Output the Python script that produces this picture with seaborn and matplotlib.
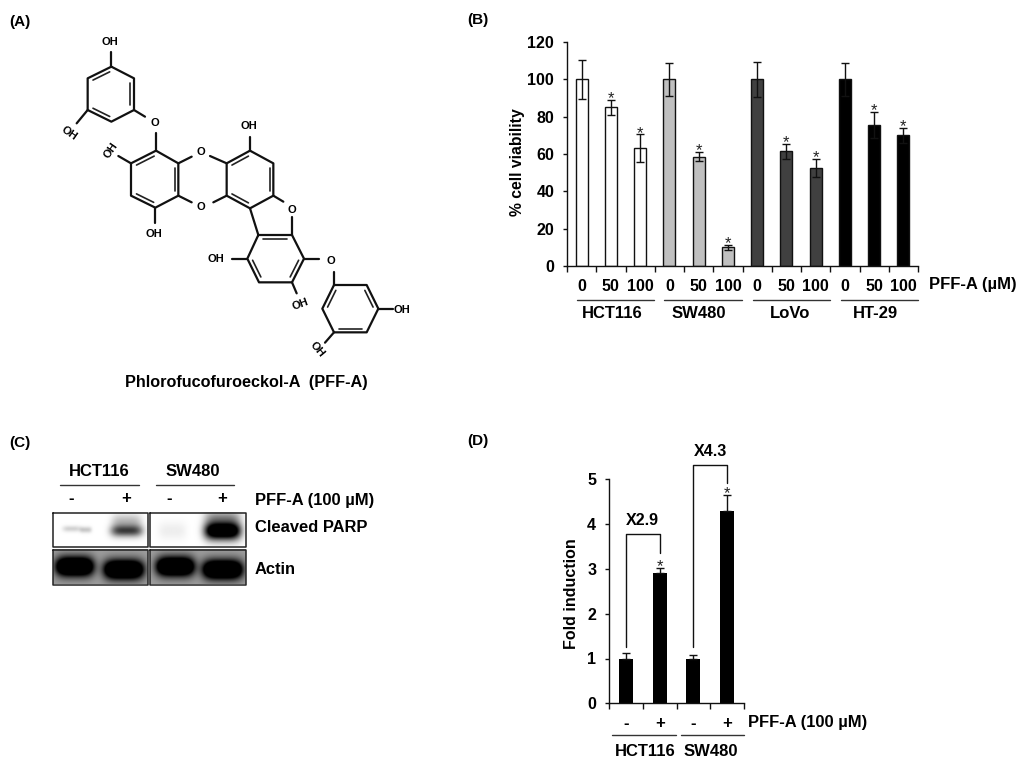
import numpy as np
import pandas as pd
import seaborn as sns
import matplotlib.pyplot as plt

sns.set_theme(style='white')
plt.rcParams['font.family'] = ['Liberation Sans', 'DejaVu Sans']
plt.rcParams['font.weight'] = 'bold'
plt.rcParams['axes.labelweight'] = 'bold'
plt.rcParams['text.color'] = 'black'
plt.rcParams['axes.labelcolor'] = 'black'
plt.rcParams['xtick.color'] = 'black'
plt.rcParams['ytick.color'] = 'black'

# panel B
lines = ['HCT116', 'SW480', 'LoVo', 'HT-29']
doses = ['0', '50', '100']
viability = [100, 85, 63, 100, 58.5, 10, 100, 61.5, 52.5, 100, 75.5, 70]
viability_err = [10.5, 4, 7.5, 9, 2.5, 1.2, 9.5, 4, 5, 9, 7, 4]
viability_star = [False, True, True] * 4
line_colors = ['white', '#c0c0c0', '#404040', 'black']

# panel D
fold_cells = ['HCT116', 'HCT116', 'SW480', 'SW480']
fold_signs = ['-', '+', '-', '+']
fold = [1, 2.9, 1, 4.3]
fold_err = [0.12, 0.12, 0.08, 0.35]
fold_star = [False, True, False, True]

W, H = 1024, 768


def axes_px(fig, x0, y0, x1, y1):
    return fig.add_axes([x0 / W, 1 - y1 / H, (x1 - x0) / W, (y1 - y0) / H])


fig = plt.figure(figsize=(W / 100, H / 100), dpi=100)

# full figure layer in pixel coordinates for labels and drawings
bg = fig.add_axes([0, 0, 1, 1])
bg.set_xlim(0, W)
bg.set_ylim(H, 0)
bg.axis('off')

for lab, x, y in [('(A)', 20, 22), ('(B)', 478, 20), ('(C)', 20, 443), ('(D)', 478, 441)]:
    bg.text(x, y, lab, fontsize=11, ha='center', va='center')


# ---- panel A, structure (coordinates from a 3x crop at 50,20)
def sx(x):
    return 50 + x / 3


def sy(y):
    return 20 + y / 3


rings = [
    ([(184, 140), (252, 175), (252, 270), (184, 305), (113, 270), (113, 175)], [1, 3, 5]),
    ([(318, 392), (385, 430), (385, 527), (316, 563), (243, 527), (243, 430)], [1, 3, 5]),
    ([(600, 392), (670, 430), (670, 527), (600, 565), (530, 527), (530, 430)], [1, 3, 5]),
    ([(625, 645), (726, 645), (762, 716), (726, 787), (627, 787), (592, 716)], [0, 2, 4]),
    ([(852, 795), (950, 795), (985, 866), (950, 937), (852, 937), (817, 866)], [1, 5, 3]),
]
bonds = [
    (184, 140, 184, 95), (113, 270, 80, 310), (252, 270, 285, 290), (318, 340, 318, 392),
    (243, 430, 205, 408), (316, 563, 316, 610), (385, 430, 425, 410), (480, 408, 530, 430),
    (385, 527, 425, 547), (490, 547, 530, 527), (600, 392, 600, 350), (670, 527, 700, 545),
    (726, 590, 726, 645), (600, 565, 625, 645), (545, 716, 592, 716), (762, 716, 808, 716),
    (726, 787, 740, 820), (852, 755, 852, 795), (985, 866, 1030, 866), (852, 937, 825, 968),
]
atoms = [
    ('OH', 180, 65, 0), ('OH', 58, 340, -35), ('O', 316, 308, 0), ('OH', 182, 390, 55),
    ('OH', 313, 642, 0), ('O', 453, 396, 0), ('O', 453, 560, 0), ('OH', 596, 318, 0),
    ('O', 726, 570, 0), ('OH', 497, 716, 0), ('O', 842, 722, 0), ('OH', 752, 852, 20),
    ('OH', 1057, 870, 0), ('OH', 802, 988, -50),
]
for pts, dbl in rings:
    p = np.array(pts, dtype=float)
    c = p.mean(axis=0)
    closed = np.vstack([p, p[0]])
    bg.plot(sx(closed[:, 0]), sy(closed[:, 1]), color='#111111', lw=1.6, solid_joinstyle='round')
    for i in dbl:
        a = p[i]
        b = p[(i + 1) % 6]
        a2 = c + (a - c) * 0.84
        b2 = c + (b - c) * 0.84
        a3 = a2 + (b2 - a2) * 0.08
        b3 = b2 - (b2 - a2) * 0.08
        bg.plot(sx(np.array([a3[0], b3[0]])), sy(np.array([a3[1], b3[1]])), color='#222222', lw=1.2)
for x0, y0, x1, y1 in bonds:
    bg.plot([sx(x0), sx(x1)], [sy(y0), sy(y1)], color='#111111', lw=1.6)
for t, x, y, rot in atoms:
    bg.text(sx(x), sy(y), t, fontsize=8, ha='center', va='center', rotation=rot,
            rotation_mode='anchor')
bg.text(246, 382, 'Phlorofucofuroeckol-A  (PFF-A)', fontsize=11.7, ha='center', va='center')


# ---- panel C, blots: x0, x1, y0, y1, background, bands (x, half w, y, half h, darkness)
def blot(x0, x1, y0, y1, base, bands):
    xs = np.arange(x0, x1, 0.5)
    ys = np.arange(y0, y1, 0.5)
    X, Y = np.meshgrid(xs, ys)
    img = np.full(X.shape, float(base))
    for cx, hw, cy, hh, dark in bands:
        img = img - dark * np.exp(-((X - cx) / hw) ** 4 - ((Y - cy) / hh) ** 2)
    bg.imshow(np.clip(img, 0, 1), cmap='gray', vmin=0, vmax=1, extent=(x0, x1, y1, y0),
              aspect='auto', interpolation='bilinear', zorder=2)
    bg.plot([x0, x1, x1, x0, x0], [y0, y0, y1, y1, y0], color='#222222', lw=1.1, zorder=3)


blot(52.5, 147.5, 512.5, 546.5, 1.0, [(71, 9, 529, 3, 0.18), (85, 6, 530, 3, 0.22),
                                     (126, 16, 531, 6, 0.75), (126, 15, 521, 7, 0.25)])
blot(150, 245.5, 512.5, 546.5, 1.0, [(172, 14, 531, 9, 0.07), (222, 18, 531, 9, 1.5),
                                    (222, 18, 517, 7, 0.35)])
blot(52.5, 147.5, 550, 584.5, 0.62, [(74, 19, 567, 9.5, 1.3), (123, 20, 570, 9.5, 1.3)])
blot(150, 245.5, 550, 584.5, 0.62, [(175, 19, 567, 9.5, 1.3), (222, 20, 570, 9.5, 1.3)])
bg.set_xlim(0, W)
bg.set_ylim(H, 0)

for t, x in [('HCT116', 99.5), ('SW480', 193)]:
    bg.text(x, 472, t, fontsize=12, ha='center', va='center')
bg.plot([60, 139], [485, 485], color='#333333', lw=1)
bg.plot([156, 234], [485, 485], color='#333333', lw=1)
for t, x in [('-', 71), ('+', 126), ('-', 169), ('+', 222)]:
    bg.text(x, 499, t, fontsize=12, ha='center', va='center')
bg.text(255, 500, 'PFF-A (100 µM)', fontsize=11.9, va='center')
bg.text(255, 528, 'Cleaved PARP', fontsize=11.9, va='center')
bg.text(255, 569, 'Actin', fontsize=11.9, va='center')

# ---- panel B
df_b = pd.DataFrame({
    'cat': [f'{l} {d}' for l in lines for d in doses],
    'line': [l for l in lines for d in doses],
    'viability': viability,
})
ax = axes_px(fig, 567, 42, 918, 266)
ax.patch.set_alpha(0)
sns.barplot(data=df_b, x='cat', y='viability', hue='line', palette=line_colors, dodge=False,
            saturation=1, width=0.41, edgecolor='#111111', linewidth=1, errorbar=None, legend=False, ax=ax)
ax.errorbar(df_b['cat'], viability, yerr=viability_err, fmt='none', ecolor='#111111',
            elinewidth=1, capsize=3.2, capthick=1)
for i, on in enumerate(viability_star):
    if on:
        ax.text(i, viability[i] + viability_err[i] - 3.4, '*', fontsize=12, ha='center', va='bottom',
                fontweight='normal', color='#222222')
ax.set_xlim(-0.5, 11.5)
ax.set_ylim(0, 120)
ax.set_yticks(range(0, 121, 20))
ax.set_xticks(range(12))
ax.set_xticklabels(doses * 4)
ax.set_xticks(np.arange(-0.5, 12), minor=True)
ax.tick_params(axis='x', which='major', length=0, pad=9, labelsize=11.5)
ax.tick_params(axis='x', which='minor', length=4, width=1, color='#111111', bottom=True)
ax.tick_params(axis='y', length=3.2, width=1, color='#111111', left=True, pad=6, labelsize=11.5)
ax.set_xlabel('')
ax.set_ylabel('% cell viability', fontsize=11.3)
ax.yaxis.set_label_coords(-0.12, 0.465)
sns.despine(ax=ax)
for s in ['left', 'bottom']:
    ax.spines[s].set_color('#111111')
    ax.spines[s].set_linewidth(1)
bg.text(929, 285, 'PFF-A (µM)', fontsize=12, va='center')
for t, x, x0, x1 in [('HCT116', 612, 577, 654), ('SW480', 699, 664, 742),
                     ('LoVo', 790, 753, 830), ('HT-29', 875, 841, 918)]:
    bg.plot([x0, x1], [300, 300], color='#333333', lw=1)
    bg.text(x, 313, t, fontsize=12, ha='center', va='center')

# ---- panel D
df_d = pd.DataFrame({
    'cat': [f'{c} {s}' for c, s in zip(fold_cells, fold_signs)],
    'fold': fold,
})
ax2 = axes_px(fig, 609, 479.3, 744, 703.3)
ax2.patch.set_alpha(0)
sns.barplot(data=df_d, x='cat', y='fold', color='black', saturation=1, width=0.41, linewidth=0,
            errorbar=None, ax=ax2)
ax2.errorbar(df_d['cat'], fold, yerr=[[0] * 4, fold_err], fmt='none', ecolor='#111111',
             elinewidth=1, capsize=3.2, capthick=1)
for i, on in enumerate(fold_star):
    if on:
        ax2.text(i, fold[i] + fold_err[i] - 0.14, '*', fontsize=12, ha='center', va='bottom',
                 fontweight='normal', color='#222222')
ax2.plot([0, 0, 1, 1], [1.26, 3.77, 3.77, 3.35], color='#111111', lw=1, clip_on=False)
ax2.plot([2, 2, 3, 3], [1.26, 5.32, 5.32, 4.91], color='#111111', lw=1, clip_on=False)
ax2.text(0.5, 4.09, 'X2.9', fontsize=11.6, ha='center', va='center')
ax2.text(2.5, 5.62, 'X4.3', fontsize=11.6, ha='center', va='center')
ax2.set_xlim(-0.5, 3.5)
ax2.set_ylim(0, 5)
ax2.set_yticks(range(6))
ax2.set_xticks(range(4))
ax2.set_xticklabels(fold_signs)
ax2.set_xticks(np.arange(-0.5, 4), minor=True)
ax2.tick_params(axis='x', which='major', length=0, pad=9, labelsize=12)
ax2.tick_params(axis='x', which='minor', length=4, width=1, color='#111111', bottom=True)
ax2.tick_params(axis='y', length=3.2, width=1, color='#111111', left=True, pad=6, labelsize=11.5)
ax2.set_xlabel('')
ax2.set_ylabel('Fold induction', fontsize=11.5)
ax2.yaxis.set_label_coords(-0.225, 0.49)
sns.despine(ax=ax2)
for s in ['left', 'bottom']:
    ax2.spines[s].set_color('#111111')
    ax2.spines[s].set_linewidth(1)
bg.text(748, 722, 'PFF-A (100 µM)', fontsize=11.9, va='center')
for t, x, x0, x1 in [('HCT116', 645, 612, 676), ('SW480', 711, 681, 744)]:
    bg.plot([x0, x1], [735, 735], color='#333333', lw=1)
    bg.text(x, 751, t, fontsize=12, ha='center', va='center')

fig.savefig('out.png', dpi=100)
